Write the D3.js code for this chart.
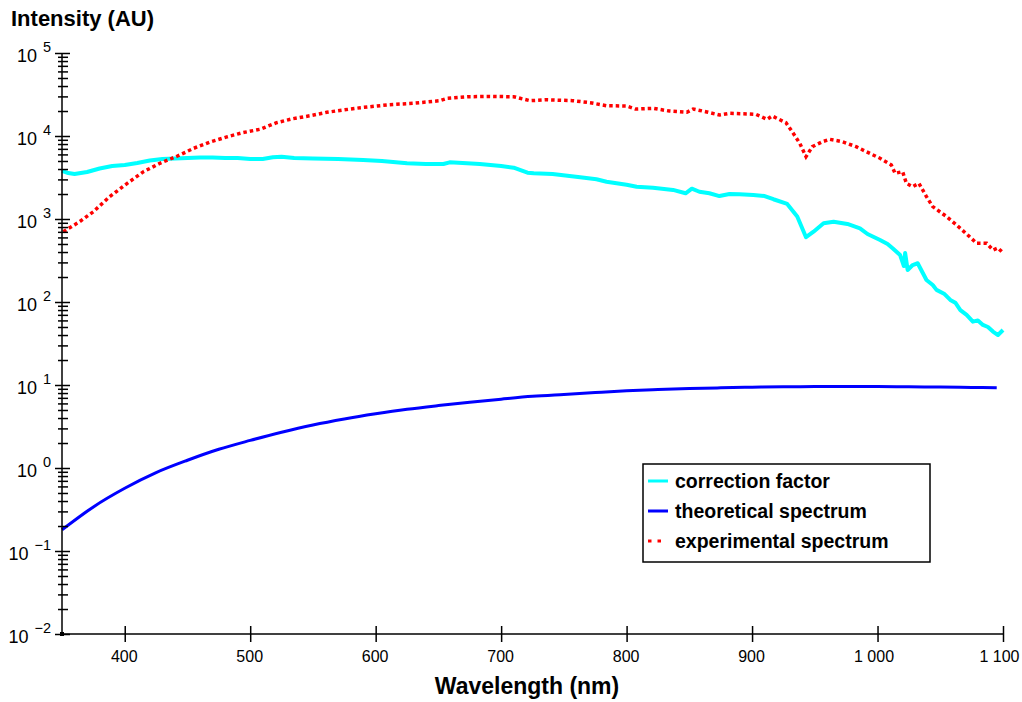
<!DOCTYPE html>
<html>
<head>
<meta charset="utf-8">
<script src="https://cdn.jsdelivr.net/npm/d3@7"></script>
<style>
  html, body { margin: 0; padding: 0; background: #fff; }
  svg { display: block; font-family: "Liberation Sans", Arial, Helvetica, sans-serif; }
</style>
</head>
<body>
<svg id="chart" width="1022" height="702"></svg>
<script>
// ---------- data ----------
const xTicks = [400, 500, 600, 700, 800, 900, 1000, 1100];
const yDecades = [-2, -1, 0, 1, 2, 3, 4, 5];

const seriesNames = ["correction factor", "theoretical spectrum", "experimental spectrum"];

// correction factor (cyan)
const wlCorr = [350,355,360,370,380,390,400,410,420,430,440,450,460,470,480,490,500,510,518,525,535,550,570,590,605,625,640,654,659,683,700,710,721,726,741,763,776,784,800,808,821,837,847,852,858,866,874,882,890,901,910,917,928,936,943,949,957,965,976,986,992,1002,1008,1012,1018,1021,1022,1024,1028,1032,1039,1044,1047,1053,1058,1062,1066,1071,1076,1080,1084,1088,1092,1096,1100];
const corr = [3790,3580,3480,3680,4060,4350,4480,4730,5070,5280,5360,5430,5510,5510,5430,5430,5280,5280,5540,5640,5430,5360,5280,5140,5000,4690,4600,4600,4820,4600,4350,4150,3610,3550,3480,3180,3010,2810,2590,2450,2380,2240,2040,2320,2130,2040,1890,2000,1990,1950,1890,1730,1520,1070,603,703,887,928,871,773,660,558,500,444,368,271,389,243,279,293,184,160,140,126,106,98,80,70,58,60,53,50,44,40,46];

// theoretical spectrum (blue)
const wlTheo = [350,375,400,425,450,475,500,525,550,575,600,625,650,675,700,725,750,775,800,825,850,875,900,925,950,975,1000,1025,1050,1075,1095];
const theo = [0.18,0.34,0.57,0.88,1.24,1.68,2.15,2.7,3.3,3.9,4.5,5.1,5.65,6.2,6.75,7.3,7.7,8.1,8.5,8.8,9.05,9.25,9.4,9.5,9.6,9.6,9.6,9.5,9.45,9.35,9.25];

// experimental spectrum (red)
const wlExp = [351,364,375,388,402,415,428,442,455,468,482,494,508,521,534,548,561,574,588,611,630,651,657,673,690,710,715,723,736,757,771,784,800,807,821,834,848,853,863,874,882,898,903,912,916,927,932,938,943,948,956,962,972,983,991,1002,1011,1014,1020,1023,1028,1033,1039,1044,1055,1063,1071,1079,1087,1092,1096,1099];
const expv = [703,927,1225,1860,2690,3720,4690,5740,7110,8470,9810,10970,12050,14460,16160,17570,19300,20560,21930,23840,24790,26630,28450,29740,29970,29740,28450,26630,27370,26630,25180,23170,22960,21140,21560,20000,19300,21140,19630,17900,18760,18400,18250,15880,17420,14460,11270,8170,5630,7430,8540,9120,8540,7430,6470,5390,4480,3550,3720,2690,2450,2690,1860,1410,1070,847,660,510,510,423,448,404];

// ---------- chart ----------
const svg = d3.select("#chart");
const X0 = 62, X1 = 1003, Y0 = 634, Y1 = 53;

const x = d3.scaleLinear().domain([350, 1100]).range([X0, X1]);
const y = d3.scaleLog().domain([1e-2, 1e5]).range([Y0, Y1]);

const colors = ["#00ffff", "#0000ff", "#ff0000"];

// lines
const line = d3.line().x(d => x(d[0])).y(d => y(d[1]));
const smooth = d3.line().x(d => x(d[0])).y(d => y(d[1])).curve(d3.curveMonotoneX);
const corrData = wlCorr.map((w, i) => [w, corr[i]]);
const theoData = wlTheo.map((w, i) => [w, theo[i]]);
const expData = wlExp.map((w, i) => [w, expv[i]]);

svg.append("path").datum(corrData).attr("d", line)
  .attr("fill", "none").attr("stroke", colors[0]).attr("stroke-width", 4).attr("stroke-linejoin", "round");
svg.append("path").datum(theoData).attr("d", smooth)
  .attr("fill", "none").attr("stroke", colors[1]).attr("stroke-width", 3);
svg.append("path").datum(expData).attr("d", line)
  .attr("fill", "none").attr("stroke", colors[2]).attr("stroke-width", 3.5).attr("stroke-dasharray", "3.5 3");

// x axis
const fmt = d3.formatLocale({decimal: ".", thousands: " ", grouping: [3], currency: ["", ""]}).format(",");
const xAxis = d3.axisBottom(x).tickValues(xTicks).tickFormat(fmt).tickSize(0).tickPadding(0);
const gx = svg.append("g").attr("transform", `translate(0,${Y0})`).call(xAxis);
gx.select(".domain").attr("d", `M${X0},0H${X1}`).attr("stroke", "#000").attr("stroke-width", 1.5);
gx.selectAll(".tick line").attr("y1", -8).attr("y2", 8).attr("stroke", "#000").attr("stroke-width", 1.5);
gx.selectAll(".tick text").attr("y", 28).attr("dy", null).attr("font-size", 16).attr("fill", "#000")
  .attr("font-family", "'Liberation Sans', Arial, sans-serif")
  .attr("text-anchor", d => d === 1100 ? "end" : "middle")
  .attr("x", d => d === 1100 ? 16 : (d === 1000 ? -4 : -1));

// y axis
const minorVals = [];
yDecades.forEach(e => {
  if (e < 5) for (let k = 2; k <= 9; k++) minorVals.push(k * Math.pow(10, e));
});
const majorVals = yDecades.map(e => Math.pow(10, e));
const yAxis = d3.axisLeft(y).tickValues(majorVals.concat(minorVals)).tickFormat("").tickSize(0);
const gy = svg.append("g").attr("transform", `translate(${X0},0)`).call(yAxis);
gy.select(".domain").attr("d", `M0,${Y0}V${Y1}`).attr("stroke", "#000").attr("stroke-width", 1.5);
gy.selectAll(".tick line")
  .attr("x1", d => majorVals.includes(d) ? -7 : -4)
  .attr("x2", d => majorVals.includes(d) ? 8 : 6)
  .attr("stroke", "#000").attr("stroke-width", 1.5);

// y labels 10^n
const ylab = svg.append("g");
yDecades.forEach(e => {
  const t = ylab.append("text")
    .attr("x", 51).attr("y", y(Math.pow(10, e)) + 9)
    .attr("text-anchor", "end").attr("font-size", 18).attr("fill", "#000");
  t.append("tspan").text("10");
  t.append("tspan").attr("dx", 6).attr("dy", -10).attr("font-size", 14.5)
    .text(e < 0 ? "\u2212" + Math.abs(e) : String(e));
});

// origin marker
svg.append("rect").attr("x", X0 - 2).attr("y", Y0 - 2).attr("width", 4).attr("height", 4).attr("fill", "#000");

// titles
svg.append("text").attr("x", 11).attr("y", 26).attr("font-size", 22).attr("font-weight", "bold")
  .attr("fill", "#000").text("Intensity (AU)");
svg.append("text").attr("x", 527).attr("y", 694).attr("text-anchor", "middle")
  .attr("font-size", 23).attr("font-weight", "bold").attr("fill", "#000").text("Wavelength (nm)");

// legend
const lg = svg.append("g").attr("transform", "translate(643,464)");
lg.append("rect").attr("x", 0).attr("y", 0).attr("width", 287).attr("height", 98)
  .attr("fill", "#fff").attr("stroke", "#000").attr("stroke-width", 1.5);
seriesNames.forEach((name, i) => {
  const yy = 17 + i * 30;
  const l = lg.append("line").attr("x1", 5).attr("x2", 25).attr("y1", yy).attr("y2", yy)
    .attr("stroke", colors[i]).attr("stroke-width", 3);
  if (i === 2) l.attr("x2", 20).attr("stroke-dasharray", "3.5 6");
  lg.append("text").attr("x", 32).attr("y", yy + 7).attr("font-size", 19.5).attr("font-weight", "bold")
    .attr("fill", "#000").text(name);
});
</script>
</body>
</html>
